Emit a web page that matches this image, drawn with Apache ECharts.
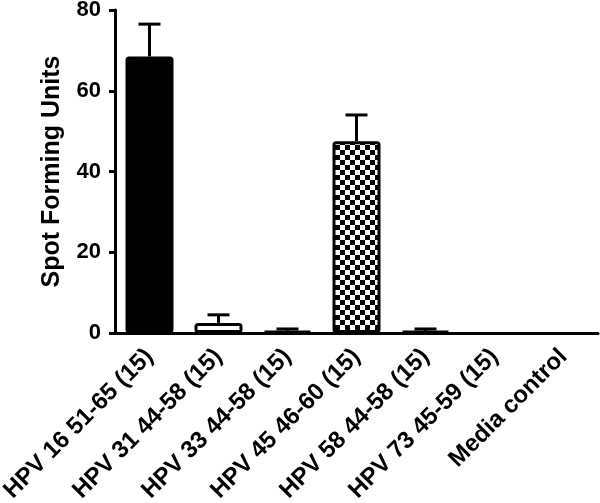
<!DOCTYPE html>
<html>
<head>
<meta charset="utf-8">
<script src="https://cdn.jsdelivr.net/npm/echarts@6/dist/echarts.min.js"></script>
<style>html,body{margin:0;padding:0;background:#fff}#c{width:600px;height:503px}</style>
</head>
<body>
<div id="c"></div>
<script>
var categories = ['HPV 16 51-65 (15)', 'HPV 31 44-58 (15)', 'HPV 33 44-58 (15)', 'HPV 45 46-60 (15)', 'HPV 58 44-58 (15)', 'HPV 73 45-59 (15)', 'Media control'];
var means = [68.5, 2.5, 0.5, 47.5, 0.5, 0, 0];
var errors = [8, 2, 0.5, 6.5, 0.5, 0, 0];
var yTicks = [0, 20, 40, 60, 80];

// checkerboard pattern
var pc = document.createElement('canvas');
pc.width = 10; pc.height = 10;
var pctx = pc.getContext('2d');
pctx.fillStyle = '#fff'; pctx.fillRect(0, 0, 10, 10);
pctx.fillStyle = '#000'; pctx.fillRect(0, 0, 5, 5); pctx.fillRect(5, 5, 5, 5);

var fills = ['#000', '#fff', '#fff', {image: pc, repeat: 'repeat'}, '#fff', '#fff', '#fff'];

var chart = echarts.init(document.getElementById('c'), null, {renderer: 'canvas'});
var font = '"Liberation Sans", Arial, sans-serif';
chart.setOption({
  animation: false,
  grid: {left: 115, right: 2, top: 10, bottom: 170, containLabel: false, outerBoundsMode: 'none'},
  xAxis: {
    type: 'category',
    data: categories,
    axisLine: {lineStyle: {color: '#000', width: 3}},
    axisTick: {alignWithLabel: true, length: 8, lineStyle: {color: '#000', width: 3}},
    axisLabel: {rotate: 45, color: '#000', fontSize: 24, fontWeight: 'bold', fontFamily: font, margin: 20, interval: 0}
  },
  yAxis: {
    type: 'value',
    min: 0, max: 80, interval: 20,
    name: 'Spot Forming Units',
    nameLocation: 'middle',
    nameGap: 50,
    nameTextStyle: {color: '#000', fontSize: 25, fontWeight: 'bold', fontFamily: font},
    axisLine: {show: true, lineStyle: {color: '#000', width: 3}},
    axisTick: {show: true, length: 6, lineStyle: {color: '#000', width: 3}},
    axisLabel: {color: '#000', fontSize: 22, fontWeight: 'bold', fontFamily: font, margin: 14},
    splitLine: {show: false}
  },
  series: [
    {
      type: 'custom',
      z: 1,
      renderItem: function (params, api) {
        var i = api.value(0);
        var m = api.value(1);
        var e = api.value(2);
        if (!e) return null;
        var p0 = api.coord([i, m]);
        var p1 = api.coord([i, m + e]);
        var hw = 11;
        return {
          type: 'group',
          children: [
            {type: 'line', shape: {x1: p0[0], y1: p0[1], x2: p1[0], y2: p1[1]}, style: {stroke: '#000', lineWidth: 3}},
            {type: 'line', shape: {x1: p1[0] - hw, y1: p1[1], x2: p1[0] + hw, y2: p1[1]}, style: {stroke: '#000', lineWidth: 3}}
          ]
        };
      },
      data: means.map(function (m, i) { return [i, m, errors[i]]; })
    },
    {
      type: 'bar',
      z: 2,
      barWidth: 48,
      data: means.map(function (m, i) {
        return {value: m, itemStyle: {color: fills[i], borderColor: '#000', borderWidth: m ? 3 : 0, borderRadius: 2}};
      })
    }
  ]
});
</script>
</body>
</html>
